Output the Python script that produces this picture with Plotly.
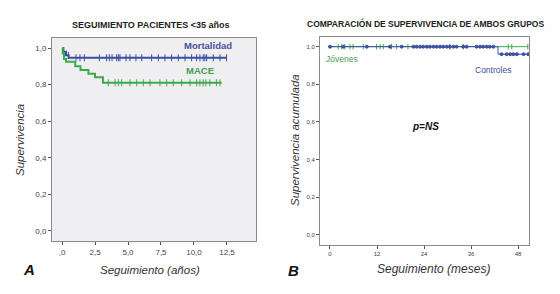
import plotly.graph_objects as go

# ---------------- Panel A data (years) ----------------
mort_t = [0, 0.1, 0.3, 0.5, 12.5]
mort_s = [1.0, 0.98, 0.96, 0.947, 0.947]
mace_t = [0, 0.05, 0.15, 0.3, 1.0, 1.4, 2.0, 2.5, 3.1, 12.1]
mace_s = [1.0, 0.97, 0.94, 0.925, 0.90, 0.88, 0.86, 0.84, 0.81, 0.81]
mort_cens = [0.48, 1.06, 1.36, 1.69, 2.83, 3.38, 3.59, 3.79, 4.14, 4.27, 4.39, 4.85, 5.15,
             5.6, 6.04, 6.79, 7.3, 7.8, 8.31, 8.81, 9.32, 9.82, 10.2, 10.45, 10.7, 10.83,
             10.96, 11.46, 11.97, 12.47]
mace_cens = [3.51, 4.02, 4.27, 4.52, 5.15, 5.66, 6.16, 6.67, 7.42, 7.93, 8.43, 9.06, 9.7,
             10.2, 10.45, 10.7, 10.9, 11.2, 11.7, 11.97]
a_xticks = [0, 2.5, 5, 7.5, 10, 12.5]
a_xlabels = [",0", "2,5", "5,0", "7,5", "10,0", "12,5"]
yticks = [0, 0.2, 0.4, 0.6, 0.8, 1.0]
ylabels = ["0,0", "0,2", "0,4", "0,6", "0,8", "1,0"]

# ---------------- Panel B data (months) ----------------
jov_t = [0, 50.6]
jov_s = [1.0, 1.0]
con_t = [0, 42.9, 50.6]
con_s = [1.0, 0.96, 0.96]
jov_cens = [2.1, 3.0, 3.8, 5.1, 5.9, 8.5, 11.9, 12.8, 13.6, 15.7, 17.0, 19.9, 30.6, 34.0,
            45.5, 46.4, 50.5]
con_cens = [0, 3.4, 9.4, 15.3, 18.3, 21.3, 22.1, 23.0, 23.8, 24.7, 25.5, 26.4, 27.2, 28.1,
            28.9, 29.8, 30.6, 31.5, 32.3, 34.0, 34.9, 37.4, 38.3, 39.1, 40.0, 40.8, 41.7,
            43.8, 45.1, 46.0, 46.8, 47.7, 49.4, 50.6]
b_xticks = [0, 12, 24, 36, 48]
b_xlabels = ["0", "12", "24", "36", "48"]

BLUE = "#3D4FA2"
GREEN = "#3FAA4C"
FONT = "Liberation Sans, Arial, sans-serif"


def surv_at(times, surv, t):
    val = surv[0]
    for ti, si in zip(times, surv):
        if ti <= t:
            val = si
    return val


fig = go.Figure()

def add_curve(t, s, cens, color, xa, ya, width, msym, msize):
    fig.add_trace(go.Scatter(x=t, y=s, mode="lines", line=dict(color=color, width=width, shape="hv"),
                             xaxis=xa, yaxis=ya, showlegend=False, hoverinfo="skip"))
    fig.add_trace(go.Scatter(x=cens, y=[surv_at(t, s, c) for c in cens], mode="markers",
                             marker=dict(symbol=msym, size=msize, color=color,
                                         line=dict(color=color, width=1)),
                             xaxis=xa, yaxis=ya, showlegend=False, hoverinfo="skip"))

add_curve(mort_t, mort_s, mort_cens, BLUE, "x", "y", 2, "line-ns", 5)
add_curve(mace_t, mace_s, mace_cens, GREEN, "x", "y", 2, "line-ns", 5)
add_curve(jov_t, jov_s, jov_cens, GREEN, "x2", "y2", 1, "line-ns", 4)
add_curve(con_t, con_s, con_cens, BLUE, "x2", "y2", 1, "circle", 3)

axcommon = dict(showgrid=False, zeroline=False, showline=True, mirror=True, linecolor="#8a8a8a",
                linewidth=1, ticks="outside", ticklen=3, tickcolor="#555", fixedrange=True)

fig.update_layout(
    width=560, height=294, margin=dict(l=0, r=0, t=0, b=0),
    paper_bgcolor="white", plot_bgcolor="rgba(0,0,0,0)",
    font=dict(family=FONT, color="#333"),
    xaxis=dict(domain=[52/560, 256/560], range=[-0.76, 14.7], tickvals=a_xticks,
               ticktext=a_xlabels, tickfont=dict(size=8, color="#444"), anchor="y", **axcommon),
    yaxis=dict(domain=[1-241/294, 1-38/294], range=[-0.055, 1.055], tickvals=yticks,
               ticktext=ylabels, tickfont=dict(size=8, color="#444"), anchor="x", **axcommon),
    xaxis2=dict(domain=[320/560, 529/560], range=[-2.55, 50.8], tickvals=b_xticks,
                ticktext=b_xlabels, tickfont=dict(size=6, color="#444"), anchor="y2", **axcommon),
    yaxis2=dict(domain=[1-245/294, 1-36.7/294], range=[-0.055, 1.053], tickvals=yticks,
                ticktext=ylabels, tickfont=dict(size=6, color="#444"), anchor="x2", **axcommon),
)

fig.add_shape(type="rect", xref="x domain", yref="y domain", x0=0, x1=1, y0=0, y1=1,
              fillcolor="#EFEEF0", line=dict(width=0), layer="below")


def ann(text, x, y, size, color="#222", angle=0):
    fig.add_annotation(text=text, x=x/560, y=1-y/294, xref="paper", yref="paper",
                       showarrow=False, font=dict(size=size, color=color, family=FONT),
                       textangle=angle, xanchor="center", yanchor="middle")

ann("<b>SEGUIMIENTO PACIENTES <35 años</b>", 150, 25, 9)
ann("<b>COMPARACIÓN DE SUPERVIVENCIA DE AMBOS GRUPOS</b>", 425, 24, 8.5)
ann("<i>Supervivencia</i>", 20, 140, 11.5, "#333", -90)
ann("<i>Supervivencia acumulada</i>", 295, 140, 11.5, "#333", -90)
ann("<i>Seguimiento (años)</i>", 150, 270, 11.5, "#333")
ann("<i>Seguimiento (meses)</i>", 433, 269, 12, "#333")
ann("<b><i>A</i></b>", 29, 269, 15, "#111")
ann("<b><i>B</i></b>", 293, 270, 15, "#111")
ann("<b>Mortalidad</b>", 208, 45, 9.5, "#4A509C")
ann("<b>MACE</b>", 200, 71, 9.5, "#3DA055")
ann("Jóvenes", 342, 59, 8.5, "#3DA055")
ann("Controles", 493, 70, 8.5, "#3D4FA2")
ann("<b><i>p=NS</i></b>", 425, 126, 10, "#111")

fig.write_html("out.html", config={"displayModeBar": False},
               post_script="document.body.style.margin='0px';")
